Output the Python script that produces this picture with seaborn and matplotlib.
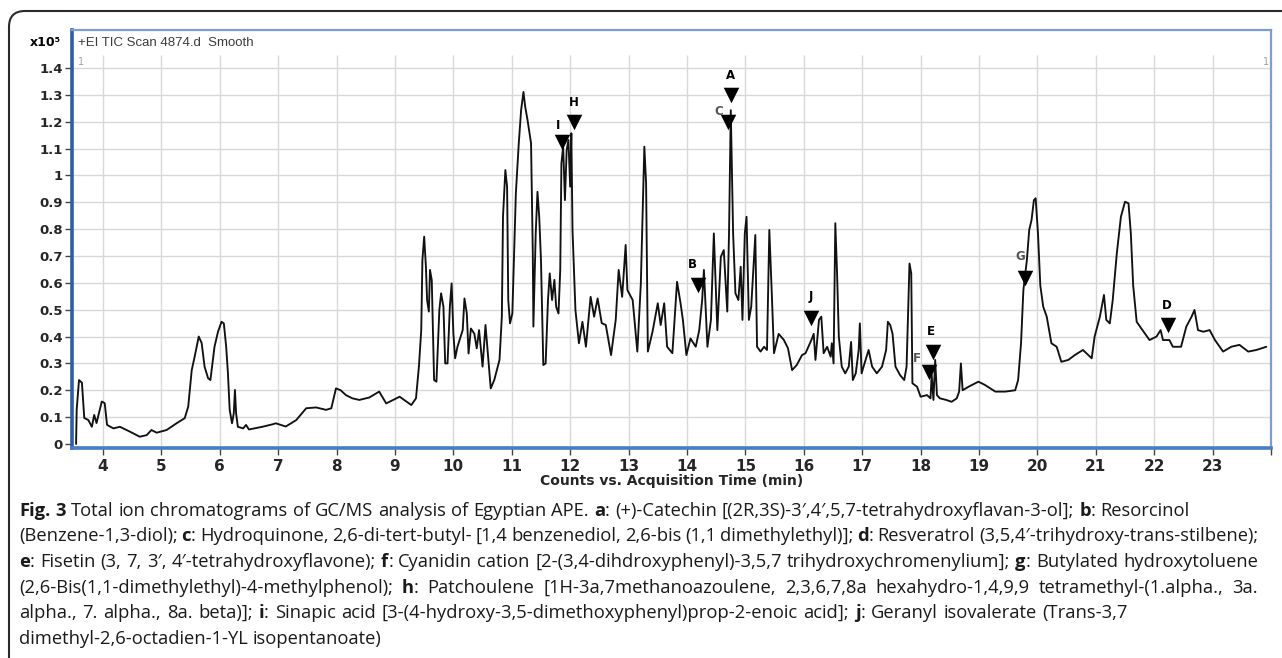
import numpy as np
import pandas as pd
import matplotlib
matplotlib.use("Agg")
import matplotlib.pyplot as plt
import seaborn as sns
from matplotlib.patches import FancyBboxPatch
from matplotlib.transforms import IdentityTransform

# ---------------- data ----------------
time_early = [3.54, 3.55, 3.59, 3.64, 3.66, 3.68, 3.75, 3.81, 3.85, 3.89,
              3.98, 4.03, 4.07, 4.18, 4.29, 4.46, 4.63, 4.75, 4.83, 4.92,
              5.09, 5.26, 5.40, 5.46, 5.52, 5.57, 5.64, 5.69, 5.74, 5.80,
              5.84, 5.91, 5.97, 6.03, 6.07, 6.11, 6.14, 6.17, 6.21, 6.24,
              6.26, 6.28, 6.31, 6.40, 6.45, 6.50, 6.73, 6.90, 6.96, 7.13,
              7.31, 7.48, 7.65, 7.82, 7.91, 7.99, 8.07, 8.16, 8.27, 8.39,
              8.56, 8.73]
counts_early = [0.0, 0.127, 0.238, 0.228, 0.164, 0.097, 0.089, 0.064, 0.108, 0.078,
                0.158, 0.152, 0.071, 0.058, 0.064, 0.046, 0.027, 0.033, 0.052, 0.042,
                0.052, 0.077, 0.096, 0.139, 0.275, 0.325, 0.400, 0.376, 0.288, 0.245,
                0.238, 0.362, 0.418, 0.455, 0.449, 0.362, 0.263, 0.127, 0.077, 0.114,
                0.201, 0.114, 0.064, 0.058, 0.071, 0.054, 0.064, 0.073, 0.077, 0.065,
                0.089, 0.133, 0.136, 0.127, 0.133, 0.207, 0.200, 0.182, 0.170, 0.164,
                0.173, 0.195]

time_middle = [8.85, 9.08, 9.28, 9.36, 9.41, 9.45, 9.47, 9.50, 9.53, 9.55,
               9.58, 9.60, 9.63, 9.67, 9.71, 9.76, 9.79, 9.83, 9.86, 9.90,
               9.94, 9.97, 10.00, 10.03, 10.07, 10.16, 10.19, 10.23, 10.26, 10.30,
               10.36, 10.40, 10.44, 10.50, 10.55, 10.59, 10.64, 10.70, 10.79, 10.83,
               10.85, 10.89, 10.92, 10.94, 10.97, 11.01, 11.04, 11.07, 11.12, 11.16,
               11.20, 11.23, 11.27, 11.33, 11.36, 11.37, 11.41, 11.44, 11.47, 11.50,
               11.54, 11.58, 11.62, 11.65, 11.69, 11.73, 11.76, 11.80, 11.83, 11.85,
               11.88, 11.91, 11.94, 11.97, 12.00, 12.02, 12.04, 12.09, 12.15, 12.21,
               12.27, 12.35, 12.41, 12.47, 12.54, 12.61, 12.70, 12.78, 12.83, 12.89,
               12.95, 12.98, 13.07, 13.15, 13.21, 13.24, 13.27, 13.30, 13.33, 13.41,
               13.50, 13.55, 13.61, 13.66, 13.75, 13.83, 13.89, 13.93, 13.99, 14.06,
               14.15, 14.21, 14.26, 14.29, 14.35, 14.41, 14.46, 14.52, 14.58, 14.63,
               14.69, 14.72, 14.75, 14.79, 14.83, 14.88, 14.92, 14.95, 14.99, 15.02,
               15.06, 15.10, 15.14, 15.17, 15.20, 15.26, 15.32, 15.37, 15.41, 15.45,
               15.49, 15.57, 15.66, 15.73, 15.80, 15.88, 15.97]
counts_middle = [0.151, 0.176, 0.145, 0.170, 0.288, 0.424, 0.685, 0.772, 0.660, 0.536,
                 0.493, 0.648, 0.610, 0.238, 0.232, 0.499, 0.561, 0.511, 0.300, 0.300,
                 0.511, 0.598, 0.412, 0.319, 0.362, 0.424, 0.542, 0.486, 0.337, 0.430,
                 0.410, 0.356, 0.424, 0.288, 0.443, 0.337, 0.207, 0.238, 0.313, 0.474,
                 0.847, 1.020, 0.958, 0.536, 0.449, 0.486, 0.710, 0.933, 1.120, 1.243,
                 1.311, 1.256, 1.206, 1.120, 0.710, 0.437, 0.784, 0.939, 0.846, 0.685,
                 0.294, 0.300, 0.536, 0.635, 0.536, 0.611, 0.511, 0.486, 0.648, 1.045,
                 1.107, 0.908, 1.094, 1.132, 0.958, 1.157, 0.797, 0.499, 0.375, 0.455,
                 0.362, 0.548, 0.474, 0.542, 0.450, 0.443, 0.331, 0.462, 0.648, 0.548,
                 0.741, 0.573, 0.536, 0.344, 0.598, 0.846, 1.107, 0.971, 0.344, 0.418,
                 0.524, 0.443, 0.524, 0.362, 0.338, 0.604, 0.524, 0.462, 0.331, 0.393,
                 0.362, 0.424, 0.536, 0.648, 0.362, 0.462, 0.784, 0.424, 0.697, 0.722,
                 0.493, 0.784, 1.243, 0.784, 0.561, 0.536, 0.660, 0.462, 0.784, 0.846,
                 0.462, 0.511, 0.660, 0.778, 0.362, 0.344, 0.362, 0.350, 0.797, 0.573,
                 0.338, 0.410, 0.387, 0.356, 0.275, 0.294, 0.331]

time_late = [16.03, 16.13, 16.17, 16.20, 16.26, 16.30, 16.34, 16.40, 16.46, 16.48,
             16.51, 16.54, 16.57, 16.60, 16.65, 16.71, 16.77, 16.81, 16.84, 16.89,
             16.94, 16.96, 16.99, 17.04, 17.11, 17.17, 17.25, 17.34, 17.41, 17.44,
             17.48, 17.52, 17.57, 17.65, 17.72, 17.76, 17.81, 17.84, 17.86, 17.94,
             18.00, 18.11, 18.17, 18.19, 18.22, 18.25, 18.28, 18.33, 18.44, 18.53,
             18.62, 18.66, 18.69, 18.72, 18.82, 18.99, 19.10, 19.28, 19.45, 19.62,
             19.67, 19.72, 19.76, 19.82, 19.86, 19.90, 19.94, 19.97, 20.01, 20.05,
             20.10, 20.16, 20.24, 20.33, 20.41, 20.53, 20.64, 20.78, 20.93, 20.98,
             21.07, 21.14, 21.18, 21.24, 21.29, 21.36, 21.43, 21.50, 21.56, 21.60,
             21.64, 21.70, 21.78, 21.92, 22.04, 22.11, 22.15, 22.26, 22.32, 22.46,
             22.55, 22.64, 22.69, 22.75, 22.84, 22.95, 23.04, 23.18, 23.32, 23.46,
             23.61, 23.75, 23.92]
counts_late = [0.338, 0.387, 0.410, 0.313, 0.462, 0.474, 0.338, 0.362, 0.325, 0.375,
               0.300, 0.822, 0.635, 0.400, 0.288, 0.263, 0.288, 0.380, 0.238, 0.263,
               0.350, 0.449, 0.263, 0.300, 0.350, 0.288, 0.263, 0.288, 0.350, 0.455,
               0.443, 0.410, 0.288, 0.256, 0.238, 0.288, 0.672, 0.635, 0.226, 0.213,
               0.176, 0.182, 0.170, 0.257, 0.164, 0.313, 0.182, 0.170, 0.164, 0.157,
               0.170, 0.195, 0.300, 0.200, 0.213, 0.232, 0.220, 0.195, 0.195, 0.200,
               0.238, 0.375, 0.573, 0.685, 0.797, 0.834, 0.908, 0.915, 0.784, 0.590,
               0.511, 0.474, 0.375, 0.362, 0.306, 0.313, 0.331, 0.350, 0.319, 0.400,
               0.474, 0.555, 0.462, 0.449, 0.536, 0.710, 0.846, 0.902, 0.896, 0.784,
               0.590, 0.455, 0.430, 0.387, 0.400, 0.424, 0.387, 0.387, 0.362, 0.362,
               0.437, 0.474, 0.499, 0.424, 0.418, 0.424, 0.387, 0.344, 0.362, 0.369,
               0.344, 0.350, 0.362]

peak_labels = ["A", "B", "C", "D", "E", "F", "G", "H", "I", "J"]
peak_time = [14.75, 14.19, 14.71, 22.24, 18.21, 18.15, 19.79, 12.07, 11.86, 16.13]
peak_marker_y = [1.30, 0.592, 1.20, 0.443, 0.344, 0.269, 0.617, 1.20, 1.125, 0.468]

x_ticks = list(range(4, 25))
x_tick_labels = [str(v) for v in range(4, 24)] + [""]
y_ticks = [0, 0.1, 0.2, 0.3, 0.4, 0.5, 0.6, 0.7, 0.8, 0.9, 1.0, 1.1, 1.2, 1.3, 1.4]
y_tick_labels = ["0", "0.1", "0.2", "0.3", "0.4", "0.5", "0.6", "0.7", "0.8", "0.9",
                 "1", "1.1", "1.2", "1.3", "1.4"]

title_text = "+EI TIC Scan 4874.d  Smooth"
x_label = "Counts vs. Acquisition Time (min)"
y_scale_text = "x10\u2075"

caption_lines = [
    "**Fig. 3** Total ion chromatograms of GC/MS analysis of Egyptian APE. **a**: (+)-Catechin [(2R,3S)-3\u2032,4\u2032,5,7-tetrahydroxyflavan-3-ol]; **b**: Resorcinol",
    "(Benzene-1,3-diol); **c**: Hydroquinone, 2,6-di-tert-butyl- [1,4 benzenediol, 2,6-bis (1,1 dimethylethyl)]; **d**: Resveratrol (3,5,4\u2032-trihydroxy-trans-stilbene);",
    "**e**: Fisetin (3, 7, 3\u2032, 4\u2032-tetrahydroxyflavone); **f**: Cyanidin cation [2-(3,4-dihdroxyphenyl)-3,5,7 trihydroxychromenylium]; **g**: Butylated hydroxytoluene",
    "(2,6-Bis(1,1-dimethylethyl)-4-methylphenol); **h**: Patchoulene [1H-3a,7methanoazoulene, 2,3,6,7,8a hexahydro-1,4,9,9 tetramethyl-(1.alpha., 3a.",
    "alpha., 7. alpha., 8a. beta)]; **i**: Sinapic acid [3-(4-hydroxy-3,5-dimethoxyphenyl)prop-2-enoic acid]; **j**: Geranyl isovalerate (Trans-3,7",
    "dimethyl-2,6-octadien-1-YL isopentanoate)",
]

# ---------------- layout / style ----------------
W, H = 1282, 658
sns.set_style("white")
plt.rcParams["font.family"] = ["DejaVu Sans"]

NARROW = ["Liberation Sans Narrow", "DejaVu Sans"]
CAPFONT = ["Open Sans", "DejaVu Sans"]

fig = plt.figure(figsize=(W / 100, H / 100), dpi=100)
fig.patch.set_facecolor("white")

ax_l, ax_r, ax_t, ax_b = 72, 1271, 30, 448
ax = fig.add_axes([ax_l / W, 1 - ax_b / H, (ax_r - ax_l) / W, (ax_b - ax_t) / H])
ax.set_facecolor("white")

x_lo, x_hi = 3.47, 24.0
y_lo, y_hi = -0.015, 1.5415
grid_top = 1.448

# grid
grid_c = "#d8d8d8"
ax.hlines(y_ticks[1:], x_lo, x_hi, colors=grid_c, linewidth=1.0, zorder=0)
ax.vlines(x_ticks[:-1], y_lo, grid_top, colors=grid_c, linewidth=1.0, zorder=0)

# trace
trace = pd.DataFrame({
    "time": time_early + time_middle + time_late,
    "counts": counts_early + counts_middle + counts_late,
})
sns.lineplot(data=trace, x="time", y="counts", estimator=None, sort=False,
             color="#111111", linewidth=1.35, ax=ax, zorder=3)

# peak markers
peaks = pd.DataFrame({"label": peak_labels, "time": peak_time, "y": peak_marker_y})
sns.scatterplot(data=peaks, x="time", y="y", marker="v", s=125, color="black",
                edgecolor="black", linewidth=0, ax=ax, zorder=5, legend=False)

label_offset = {"A": (0, 19), "B": (-6, 20), "C": (-10, 10), "D": (-1, 20),
                "E": (-2, 20), "F": (-12, 13), "G": (-5, 22), "H": (0, 19),
                "I": (-4, 16), "J": (-1, 22)}
label_color = {"C": "#555555", "F": "#555555", "G": "#555555"}
for lab, tx, ty in zip(peaks["label"], peaks["time"], peaks["y"]):
    ax.annotate(lab, (tx, ty), xytext=label_offset[lab], textcoords="offset pixels",
                ha="center", va="center", fontsize=8.5, fontweight="bold",
                color=label_color.get(lab, "black"), zorder=6)

ax.set_xlim(x_lo, x_hi)
ax.set_ylim(y_lo, y_hi)

ax.set_xticks(x_ticks)
ax.set_xticklabels(x_tick_labels, fontweight="bold", family=NARROW, fontsize=11)
ax.set_yticks(y_ticks)
ax.set_yticklabels(y_tick_labels, fontweight="bold", family=["DejaVu Sans"], fontsize=9.5)
ax.tick_params(axis="x", direction="out", length=5, width=1, color="#444444", pad=3, bottom=True)
ax.tick_params(axis="y", direction="out", length=5, width=1, color="#444444", pad=1.5, left=True)
ax.set_xlabel(x_label, fontweight="bold", family=NARROW, fontsize=10, labelpad=0)
ax.set_ylabel("")

for side, lw, col in [("left", 2.6, "#2f5ea8"), ("bottom", 2.6, "#4a7bc8"),
                      ("top", 1.6, "#7b9fd4"), ("right", 1.6, "#7b9fd4")]:
    ax.spines[side].set_visible(True)
    ax.spines[side].set_linewidth(lw)
    ax.spines[side].set_color(col)

# header texts in axes header band
ID = IdentityTransform()
fig.text(78, H - 43, title_text, transform=ID, ha="left", va="center",
         fontsize=9.5, color="#3c3c3c", family=["Liberation Sans", "DejaVu Sans"])
fig.text(78, H - 62, "1", transform=ID, ha="left", va="center", fontsize=7, color="#a0a0a0")
fig.text(1263, H - 62, "1", transform=ID, ha="left", va="center", fontsize=7, color="#a0a0a0")
fig.text(45, H - 43, y_scale_text, transform=ID, ha="center", va="center",
         fontsize=9, fontweight="bold", color="black")

# outer rounded frame (open at the right and bottom edges of the image)
frame = FancyBboxPatch((9, -30), 1320, H - 11 + 30, boxstyle="round,pad=0,rounding_size=16",
                       transform=ID, fill=False, linewidth=1.5, edgecolor="#2a2a2a")
fig.add_artist(frame)

# ---------------- caption with bold runs and justification ----------------
renderer = fig.canvas.get_renderer()


def parse_words(line):
    words = [[]]
    for i, part in enumerate(line.split("**")):
        bold = (i % 2 == 1)
        for j, piece in enumerate(part.split(" ")):
            if j > 0:
                words.append([])
            if piece:
                words[-1].append((piece, bold))
    return [w for w in words if w]


def run_width(text, bold, fs):
    t = fig.text(0, 0, text, transform=ID, fontsize=fs, family=CAPFONT,
                 fontweight="bold" if bold else "normal")
    w = t.get_window_extent(renderer).width
    t.remove()
    return w


def word_width(word, fs):
    return sum(run_width(t, b, fs) for t, b in word)


def space_width(fs):
    return run_width("n n", False, fs) - run_width("nn", False, fs)


cap_x0 = 19
base_fs = 12.0
w2 = sum(word_width(w, base_fs) for w in parse_words(caption_lines[1])) \
    + space_width(base_fs) * (len(parse_words(caption_lines[1])) - 1)
cap_fs = base_fs * (1258 - cap_x0) / w2

cap_baselines = [516, 541, 567, 593, 618, 644]
cap_right = [1190, 1258, 1258, 1258, 1128, None]
sp = space_width(cap_fs)
for line, base, right in zip(caption_lines, cap_baselines, cap_right):
    words = parse_words(line)
    widths = [word_width(w, cap_fs) for w in words]
    gap = sp
    if right is not None and len(words) > 1:
        gap = max((right - cap_x0 - sum(widths)) / (len(words) - 1), 0.6 * sp)
    x = cap_x0
    for w, ww in zip(words, widths):
        xr = x
        for text, bold in w:
            t = fig.text(xr, H - base, text, transform=ID, fontsize=cap_fs, family=CAPFONT,
                         fontweight="bold" if bold else "normal", color="#1a1a1a",
                         ha="left", va="baseline")
            xr += t.get_window_extent(renderer).width
        x += ww + gap

fig.savefig("out.png", dpi=100, facecolor="white")
